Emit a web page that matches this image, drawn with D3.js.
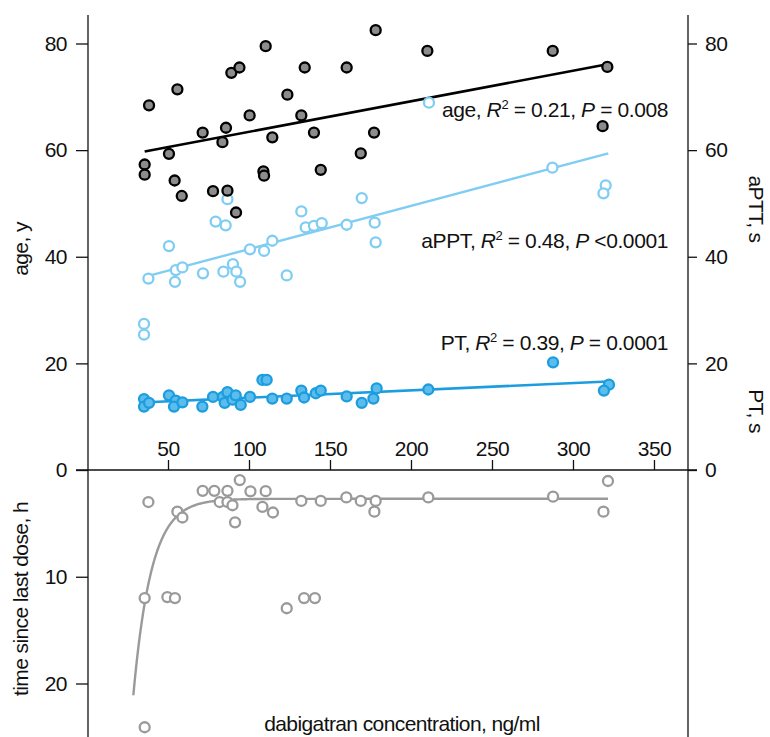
<!DOCTYPE html>
<html>
<head>
<meta charset="utf-8">
<script src="https://cdn.jsdelivr.net/npm/d3@7"></script>
<style>
  body { margin: 0; background: #fff; }
  svg text { font-family: "Liberation Sans", Arial, sans-serif; fill: #111; }
</style>
</head>
<body>
<svg id="chart"></svg>
<script>
const width = 770;
const height = 737;

// [concentration ng/ml, value]
const agePoints = [
  [38.3, 68.4], [55.8, 71.4], [35.6, 57.3], [35.6, 55.4], [50.6, 59.3], [54.1, 54.3],
  [58.5, 51.4], [71.4, 63.3], [83.6, 61.5], [85.8, 64.2], [77.8, 52.3], [86.7, 52.4],
  [92.0, 48.3], [89.1, 74.5], [94.1, 75.5], [100.4, 66.5], [110.3, 79.5], [123.7, 70.4],
  [134.4, 75.5], [160.3, 75.5], [178.2, 82.5], [210.1, 78.6], [132.3, 66.5], [114.4, 62.4],
  [140.1, 63.3], [177.2, 63.3], [169.0, 59.4], [144.3, 56.3], [108.9, 56.0], [109.3, 55.2],
  [287.5, 78.6], [321.2, 75.6], [318.3, 64.5]
];
const apttPoints = [
  [50.6, 42.0], [86.7, 50.8], [79.4, 46.6], [85.6, 45.9], [37.9, 35.9], [54.8, 37.5],
  [58.9, 38.0], [54.3, 35.3], [71.6, 36.9], [84.2, 37.2], [90.1, 38.6], [92.2, 37.2],
  [94.5, 35.3], [100.6, 41.4], [35.2, 27.4], [35.2, 25.4], [132.3, 48.5], [169.6, 51.0],
  [135.0, 45.5], [140.1, 45.8], [144.9, 46.3], [160.3, 46.0], [177.6, 46.4], [178.2, 42.7],
  [114.4, 43.0], [109.3, 41.1], [123.3, 36.5], [211.1, 68.9], [287.3, 56.7], [320.2, 53.4],
  [318.8, 51.9]
];
const ptPoints = [
  [35.2, 13.3], [35.2, 11.9], [38.3, 12.6], [50.6, 14.0], [54.8, 13.0], [53.7, 11.9],
  [58.9, 12.7], [71.2, 11.9], [77.8, 13.7], [83.9, 13.7], [86.7, 14.6], [85.0, 12.6],
  [89.8, 13.2], [91.8, 14.0], [94.9, 12.2], [100.6, 13.7], [108.3, 16.9], [110.9, 16.9],
  [114.4, 13.4], [123.3, 13.4], [132.3, 14.9], [134.0, 13.6], [141.2, 14.4], [144.3, 14.9],
  [160.3, 13.8], [169.6, 12.6], [176.8, 13.4], [178.8, 15.3], [210.7, 15.1], [287.7, 20.2],
  [322.2, 16.0], [319.1, 14.9]
];
const dosePoints = [
  [37.9, 3.0], [35.6, 12.0], [35.6, 24.1], [49.6, 11.9], [54.3, 12.0], [55.8, 3.9],
  [58.9, 4.45], [71.4, 1.95], [78.6, 1.95], [86.7, 1.95], [81.9, 3.0], [86.7, 3.0],
  [89.8, 3.3], [91.4, 4.9], [94.3, 0.94], [100.9, 2.0], [108.3, 3.45], [110.3, 1.98],
  [114.8, 3.98], [132.3, 2.9], [144.3, 2.9], [160.1, 2.57], [169.0, 2.9], [178.2, 2.9],
  [177.4, 3.9], [210.7, 2.57], [123.3, 12.95], [134.0, 12.0], [140.7, 12.0],
  [321.6, 1.03], [287.7, 2.5], [318.8, 3.9]
];

// regression lines: [intercept, slope, xStart, xEnd]
const ageFit = [57.71, 0.05725, 35.6, 321.2];
const apttFit = [33.33, 0.0810, 37.9, 321.8];
const ptFit = [12.19, 0.01372, 37.3, 321.6];
// decay fit: [asymptote, amplitude, rate, xStart, xEnd]
const doseFit = [2.7, 18.4, 0.09, 28.6, 321.6];

const xTicks = [50, 100, 150, 200, 250, 300, 350];
const topTicks = [0, 20, 40, 60, 80];
const bottomTicks = [0, 10, 20];

const annotations = [
  { name: "age", r2: "0.21", p: "= 0.008", y: 117 },
  { name: "aPPT", r2: "0.48", p: "<0.0001", y: 248 },
  { name: "PT", r2: "0.39", p: "= 0.0001", y: 350 }
];

const fontSize = "21px";

const svg = d3.select("#chart").attr("width", width).attr("height", height);

const x = d3.scaleLinear().domain([0, 371]).range([87, 688]);
const yTop = d3.scaleLinear().domain([0, 80]).range([470, 43.5]);
const yBot = d3.scaleLinear().domain([0, 20]).range([470, 683.5]);

const leftX = 88, rightX = 688, axisY = 470;

// axis lines
svg.append("line").attr("x1", leftX).attr("x2", leftX).attr("y1", 15).attr("y2", height)
  .attr("stroke", "#111").attr("stroke-width", 1.3);
svg.append("line").attr("x1", rightX).attr("x2", rightX).attr("y1", 15).attr("y2", height)
  .attr("stroke", "#111").attr("stroke-width", 1.3);
svg.append("line").attr("x1", 76).attr("x2", 697).attr("y1", axisY).attr("y2", axisY)
  .attr("stroke", "#111").attr("stroke-width", 1.3);

function styleAxis(g) {
  g.select(".domain").remove();
  g.selectAll(".tick line").attr("stroke", "#111").attr("stroke-width", 1.3);
  g.selectAll(".tick text").style("font-size", fontSize).style("letter-spacing", "-0.5px").attr("fill", "#111");
}

svg.append("g").attr("transform", `translate(${leftX},0)`)
  .call(d3.axisLeft(yTop).tickValues(topTicks).tickSize(12).tickPadding(9))
  .call(styleAxis);
svg.append("g").attr("transform", `translate(${leftX},0)`)
  .call(d3.axisLeft(yBot).tickValues(bottomTicks.slice(1)).tickSize(12).tickPadding(9))
  .call(styleAxis);
svg.append("g").attr("transform", `translate(${rightX},0)`)
  .call(d3.axisRight(yTop).tickValues(topTicks).tickSize(9).tickPadding(8))
  .call(styleAxis);
svg.append("g").attr("transform", `translate(0,${axisY})`)
  .call(d3.axisTop(x).tickValues(xTicks).tickSize(10).tickPadding(4))
  .call(styleAxis);

// axis titles
function title(transform, label) {
  svg.append("text").attr("transform", transform)
    .attr("text-anchor", "middle").style("font-size", fontSize)
    .style("letter-spacing", "-0.6px").text(label);
}
title("translate(28,249) rotate(-90)", "age, y");
title("translate(28,599) rotate(-90)", "time since last dose, h");
title("translate(749,209) rotate(90)", "aPTT, s");
title("translate(749,411) rotate(90)", "PT, s");
title("translate(402,731)", "dabigatran concentration, ng/ml");

// fit lines
function fitLine(fit, color, w) {
  const [b, m, x0, x1] = fit;
  svg.append("line")
    .attr("x1", x(x0)).attr("y1", yTop(b + m * x0))
    .attr("x2", x(x1)).attr("y2", yTop(b + m * x1))
    .attr("stroke", color).attr("stroke-width", w);
}
fitLine(apttFit, "#80cdf3", 2.4);
fitLine(ptFit, "#1c9de0", 2.6);
fitLine(ageFit, "#000", 2.6);

const [ca, cb, ck, cx0, cx1] = doseFit;
const curve = d3.range(cx0, cx1, 0.5).concat([cx1]).map(v => [v, ca + cb * Math.exp(-ck * (v - cx0))]);
svg.append("path").datum(curve)
  .attr("fill", "none").attr("stroke", "#9a9a9a").attr("stroke-width", 2.4)
  .attr("d", d3.line().x(d => x(d[0])).y(d => yBot(d[1])));

// points
function dots(data, yScale, fill, stroke) {
  svg.append("g").selectAll("circle").data(data).enter().append("circle")
    .attr("cx", d => x(d[0])).attr("cy", d => yScale(d[1])).attr("r", 5)
    .attr("fill", fill).attr("stroke", stroke).attr("stroke-width", 2.3);
}
dots(apttPoints, yTop, "#fff", "#80cdf3");
dots(ptPoints, yTop, "#5cbdec", "#1c9de0");
dots(agePoints, yTop, "#8c8c8c", "#000");
dots(dosePoints, yBot, "#fff", "#9a9a9a");

// annotations
annotations.forEach(a => {
  const t = svg.append("text").attr("x", 668).attr("y", a.y)
    .attr("text-anchor", "end").style("font-size", fontSize).style("letter-spacing", "-0.4px");
  t.append("tspan").text(a.name + ", ");
  t.append("tspan").style("font-style", "italic").text("R");
  t.append("tspan").style("font-size", "13px").attr("dy", -8).text("2");
  t.append("tspan").attr("dy", 8).text(" = " + a.r2 + ", ");
  t.append("tspan").style("font-style", "italic").text("P");
  t.append("tspan").text(" " + a.p);
});
</script>
</body>
</html>
